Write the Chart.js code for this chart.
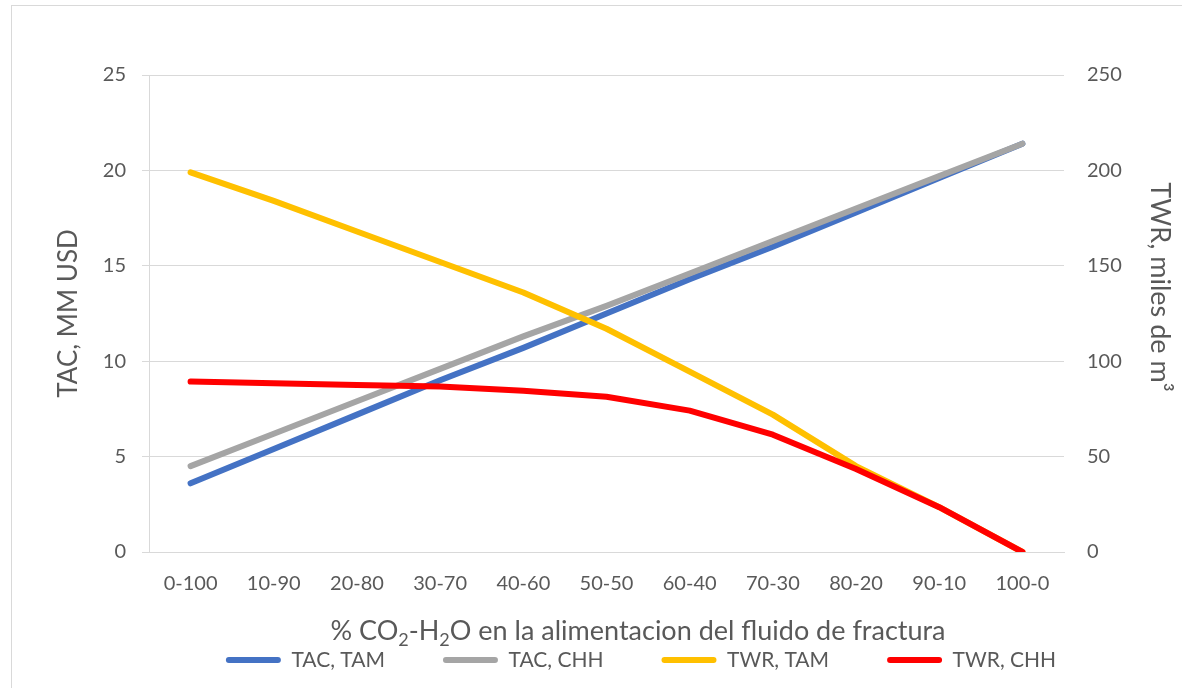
<!DOCTYPE html>
<html><head><meta charset="utf-8">
<script src="https://cdn.jsdelivr.net/npm/chart.js@4.4.0/dist/chart.umd.min.js"></script>
<style>html,body{margin:0;padding:0;background:#fff;}#wrap{position:relative;width:1182px;height:688px;}</style>
</head><body><div id="wrap"><canvas id="c" width="1182" height="688"></canvas></div>
<script>
const categories = ['0-100','10-90','20-80','30-70','40-60','50-50','60-40','70-30','80-20','90-10','100-0'];
const tacTAM = [3.6, 5.4, 7.2, 9.0, 10.7, 12.5, 14.3, 16.0, 17.8, 19.6, 21.4];
const tacCHH = [4.5, 6.2, 7.9, 9.6, 11.3, 12.9, 14.6, 16.3, 18.0, 19.7, 21.4];
const twrTAM = [199, 184, 168, 152, 136, 117, 94.5, 72, 45, 23.5, 0];
const twrCHH = [89.3, 88.4, 87.5, 86.8, 84.5, 81.4, 74.1, 61.5, 43.5, 23.5, 0];
const leftTicks = [0, 5, 10, 15, 20, 25];
const rightTicks = [0, 50, 100, 150, 200, 250];
const seriesNames = ['TAC, TAM', 'TAC, CHH', 'TWR, TAM', 'TWR, CHH'];
// x title pieces: [text, isSubscript]
const xTitleParts = [['% CO', false], ['2', true], ['-H', false], ['2', true], ['O en la alimentacion del fluido de fractura', false]];
const yTitle = 'TAC, MM USD';
const y1Title = 'TWR, miles de m\u00B3';

const FONT = 'Lato';
const TXT = '#595959';
const GRID = '#D9D9D9';
const LEG_FS = 21;
const LEG_PAD = 58;
const LEG_TOP = 660 - LEG_PAD - LEG_FS / 2;
const LEG_H = 688 - LEG_TOP;

const extras = {
  id: 'extras',
  beforeLayout(chart) {
    const lg = chart.legend;
    if (lg && !lg._patched) {
      const orig = lg.fit.bind(lg);
      lg.fit = function () {
        orig();
        this.height = LEG_H;
        if (this.lineWidths) this.lineWidths[0] -= 100;
      };
      lg._patched = true;
    }
  },
  beforeDraw(chart) {
    const ctx = chart.ctx;
    ctx.save();
    ctx.strokeStyle = GRID;
    ctx.lineWidth = 1;
    ctx.strokeRect(11.5, 5.5, 1400, 1400);
    ctx.restore();
  },
  afterDraw(chart) {
    const ctx = chart.ctx;
    // right axis title
    ctx.save();
    ctx.fillStyle = TXT;
    ctx.font = '27px ' + FONT;
    ctx.textAlign = 'center';
    ctx.textBaseline = 'middle';
    ctx.translate(1160, 287);
    ctx.rotate(Math.PI / 2);
    ctx.fillText(y1Title, 0, 0);
    ctx.restore();
    // x axis title with subscripts
    ctx.save();
    ctx.fillStyle = TXT;
    ctx.textBaseline = 'alphabetic';
    ctx.textAlign = 'left';
    const big = '27px ' + FONT, small = '18px ' + FONT;
    let total = 0;
    xTitleParts.forEach(([t, sub]) => { ctx.font = sub ? small : big; total += ctx.measureText(t).width; });
    let x = 638 - total / 2;
    const base = 640;
    xTitleParts.forEach(([t, sub]) => {
      ctx.font = sub ? small : big;
      ctx.fillText(t, x, sub ? base + 6 : base);
      x += ctx.measureText(t).width;
    });
    ctx.restore();
  }
};

const mk = (label, data, color, axis, order) => ({
  label, data, borderColor: color, backgroundColor: color, yAxisID: axis, order,
  borderWidth: 6, pointRadius: 0, tension: 0, borderCapStyle: 'round', borderJoinStyle: 'round', fill: false
});

new Chart(document.getElementById('c'), {
  type: 'line',
  data: {
    labels: categories,
    datasets: [
      mk(seriesNames[0], tacTAM, '#4472C4', 'y', 3),
      mk(seriesNames[1], tacCHH, '#A5A5A5', 'y', 2),
      mk(seriesNames[2], twrTAM, '#FFC000', 'y1', 1),
      mk(seriesNames[3], twrCHH, '#FF0000', 'y1', 0)
    ]
  },
  options: {
    responsive: false, animation: false, devicePixelRatio: 1,
    layout: { padding: { top: 75, left: 0, right: 0, bottom: 0 } },
    plugins: {
      tooltip: { enabled: false },
      legend: {
        position: 'bottom', align: 'center',
        labels: {
          font: { family: FONT, size: LEG_FS }, color: TXT,
          boxWidth: 55, boxHeight: 6, padding: LEG_PAD,
          useBorderRadius: true, borderRadius: 3,
          generateLabels(chart) {
            return chart.data.datasets.map((d, i) => ({
              text: d.label, fillStyle: d.borderColor, strokeStyle: d.borderColor,
              lineWidth: 0, hidden: false, datasetIndex: i, fontColor: TXT, borderRadius: 3
            }));
          }
        }
      }
    },
    scales: {
      x: {
        type: 'category', offset: true,
        grid: { display: false, drawTicks: false },
        border: { display: true, color: GRID },
        ticks: { font: { family: FONT, size: 20 }, color: TXT, padding: 20, maxRotation: 0, autoSkip: false },
        title: { display: false },
        afterFit(s) { s.height = LEG_TOP - 552; s._computeLabelArea = () => null; }
      },
      y: {
        position: 'left', min: 0, max: 25,
        afterBuildTicks(s) { s.ticks = leftTicks.map(v => ({ value: v })); },
        grid: { color: GRID, lineWidth: 1, tickLength: 7, drawTicks: true },
        border: { display: true, color: GRID },
        ticks: { font: { family: FONT, size: 20 }, color: TXT, padding: 16 },
        title: { display: true, text: yTitle, font: { family: FONT, size: 26 }, color: TXT, padding: { top: 53, bottom: 0 } },
        afterFit(s) { s.width = 149; }
      },
      y1: {
        position: 'right', min: 0, max: 250,
        afterBuildTicks(s) { s.ticks = rightTicks.map(v => ({ value: v })); },
        grid: { display: false, drawTicks: false, drawOnChartArea: false },
        border: { display: false },
        ticks: { font: { family: FONT, size: 20 }, color: TXT, padding: 23 },
        afterFit(s) { s.width = 118; }
      }
    }
  },
  plugins: [extras]
});
</script></body></html>
